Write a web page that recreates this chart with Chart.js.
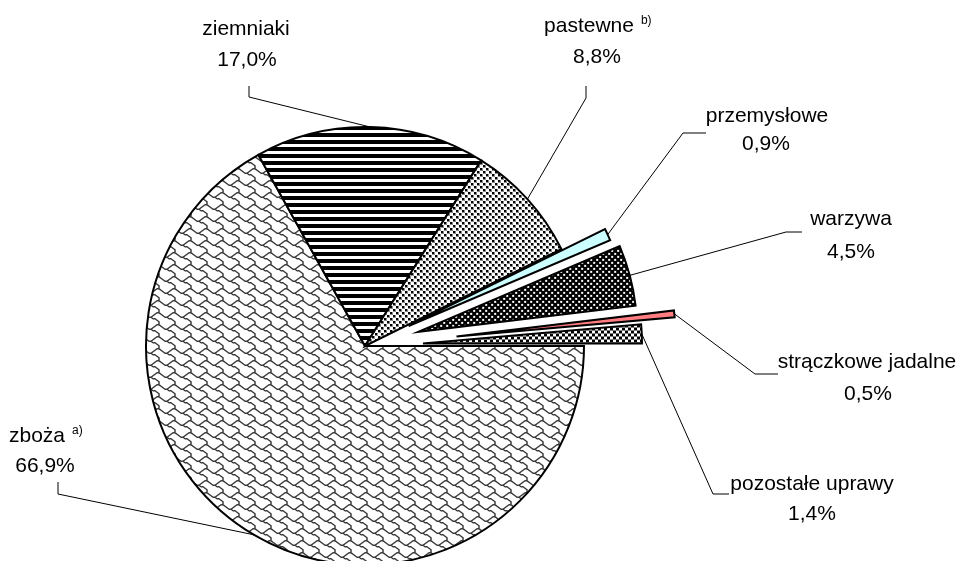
<!DOCTYPE html>
<html>
<head>
<meta charset="utf-8">
<script src="https://cdn.jsdelivr.net/npm/chart.js@4"></script>
<style>
  html, body { margin: 0; padding: 0; background: #fff; overflow: hidden; }
</style>
</head>
<body>
<canvas id="cropChart" width="962" height="561"></canvas>
<script>
// data
const categories = ['zboża', 'ziemniaki', 'pastewne', 'przemysłowe', 'warzywa', 'strączkowe jadalne', 'pozostałe uprawy'];
const shares = [66.9, 17.0, 8.8, 0.9, 4.5, 0.5, 1.4];
const footnotes = ['a)', '', 'b)', '', '', '', ''];
// how far each slice is pulled out, px
const explodeDist = [0, 0, 0, 48, 55, 92, 58];

// label layout, page coords
const labelPos = [
    { nx: 37,  ny: 442, vx: 45,  vy: 472, lead: [[58, 482], [58, 494]] },
    { nx: 246, ny: 35,  vx: 247, vy: 66,  lead: [[249, 86], [249, 97]] },
    { nx: 589, ny: 32,  vx: 597, vy: 63,  lead: [[586, 86], [586, 98]] },
    { nx: 767, ny: 122, vx: 766, vy: 150, lead: [[706, 133], [683, 133]] },
    { nx: 851, ny: 225, vx: 851, vy: 258, lead: [[802, 232], [786, 232]] },
    { nx: 867, ny: 368, vx: 868, vy: 400, lead: [[778, 374], [755, 374]] },
    { nx: 812, ny: 490, vx: 812, vy: 520, lead: [[729, 494], [713, 494]] }
];

const ctx = document.getElementById('cropChart').getContext('2d');

function makePattern(w, h, draw) {
    const c = document.createElement('canvas');
    c.width = w;
    c.height = h;
    const g = c.getContext('2d');
    g.fillStyle = '#fff';
    g.fillRect(0, 0, w, h);
    draw(g);
    return ctx.createPattern(c, 'repeat');
}

// shingle pattern (zboża): 8x8 hatch cell scaled up, drawn as a line
const SX = 2, SY = 1.5;
const shingle = makePattern(8 * SX, 8 * SY, g => {
    g.strokeStyle = '#3a3a3a';
    g.lineWidth = 1.5;
    g.lineJoin = 'round';
    const cup = [[-1, 0], [0, 1], [1, 2], [2, 3], [3, 3], [4, 2], [5, 1], [6, 0], [7, 0]];
    const tail = [[3, 3], [4, 4], [5, 4], [6, 5], [7, 6], [7, 7], [7, 8]];
    [-8, 0, 8].forEach(dx => {
        [-8, 0, 8].forEach(dy => {
            [cup, tail].forEach(pts => {
                g.beginPath();
                pts.forEach(([x, y], k) => {
                    const px = (x + dx + 0.5) * SX;
                    const py = (y + dy + 0.5) * SY;
                    if (k === 0) g.moveTo(px, py); else g.lineTo(px, py);
                });
                g.stroke();
            });
        });
    });
});

const stripes = makePattern(7, 7, g => {
    g.fillStyle = '#000';
    g.fillRect(0, 0, 7, 4);
});

const dots = makePattern(6, 6, g => {
    g.fillStyle = '#888';
    g.fillRect(0, 0, 3, 3);
    g.fillRect(3, 3, 3, 3);
    g.fillStyle = '#000';
    g.fillRect(0, 0, 2, 2);
    g.fillRect(3, 3, 2, 2);
});

const darkDots = makePattern(6, 6, g => {
    g.fillStyle = '#000';
    g.fillRect(0, 0, 6, 6);
    g.fillStyle = '#fff';
    g.fillRect(0, 0, 2, 2);
    g.fillRect(3, 3, 2, 2);
});

const checker = makePattern(6, 6, g => {
    g.fillStyle = '#000';
    g.fillRect(0, 0, 3, 3);
    g.fillRect(3, 3, 3, 3);
});

const fills = [shingle, stripes, dots, '#CCFFFF', darkDots, '#FF7C80', checker];

function midAngle(arc) {
    return (arc.startAngle + arc.endAngle) / 2;
}

// draws each slice moved out along its middle angle
const explodePlugin = {
    id: 'explodeSlices',
    beforeDatasetDraw(chart, args) {
        const c = chart.ctx;
        args.meta.data.forEach((arc, i) => {
            const mid = midAngle(arc);
            c.save();
            c.translate(Math.cos(mid) * explodeDist[i], Math.sin(mid) * explodeDist[i]);
            arc.draw(c);
            c.restore();
        });
        return false;
    }
};

const labelPlugin = {
    id: 'sliceLabels',
    afterDatasetsDraw(chart) {
        const c = chart.ctx;
        const meta = chart.getDatasetMeta(0);
        c.save();
        meta.data.forEach((arc, i) => {
            const mid = midAngle(arc);
            const r = arc.outerRadius + explodeDist[i];
            const ex = arc.x + Math.cos(mid) * r;
            const ey = arc.y + Math.sin(mid) * r;
            const lp = labelPos[i];

            c.strokeStyle = '#000';
            c.lineWidth = 1;
            c.beginPath();
            c.moveTo(lp.lead[0][0], lp.lead[0][1]);
            c.lineTo(lp.lead[1][0], lp.lead[1][1]);
            c.lineTo(ex, ey);
            c.stroke();

            c.fillStyle = '#000';
            c.textAlign = 'center';
            c.textBaseline = 'alphabetic';
            c.font = '21px "Liberation Sans", Arial, sans-serif';
            c.fillText(categories[i], lp.nx, lp.ny);
            const w = c.measureText(categories[i]).width;
            c.fillText(shares[i].toFixed(1).replace('.', ',') + '%', lp.vx, lp.vy);
            if (footnotes[i]) {
                c.font = '12px "Liberation Sans", Arial, sans-serif';
                c.textAlign = 'left';
                c.fillText(footnotes[i], lp.nx + w / 2 + 7, lp.ny - 8);
            }
        });
        c.restore();
    }
};

new Chart(ctx, {
    type: 'pie',
    data: {
        labels: categories,
        datasets: [{
            data: shares,
            backgroundColor: fills,
            borderColor: '#000',
            borderWidth: 2,
            borderJoinStyle: 'miter',
            radius: 219,
            hoverOffset: 0
        }]
    },
    options: {
        responsive: false,
        animation: false,
        rotation: 90,
        events: [],
        layout: {
            padding: { left: 0, right: 232, top: 131, bottom: 0 }
        },
        plugins: {
            legend: { display: false },
            tooltip: { enabled: false }
        }
    },
    plugins: [explodePlugin, labelPlugin]
});
</script>
</body>
</html>
